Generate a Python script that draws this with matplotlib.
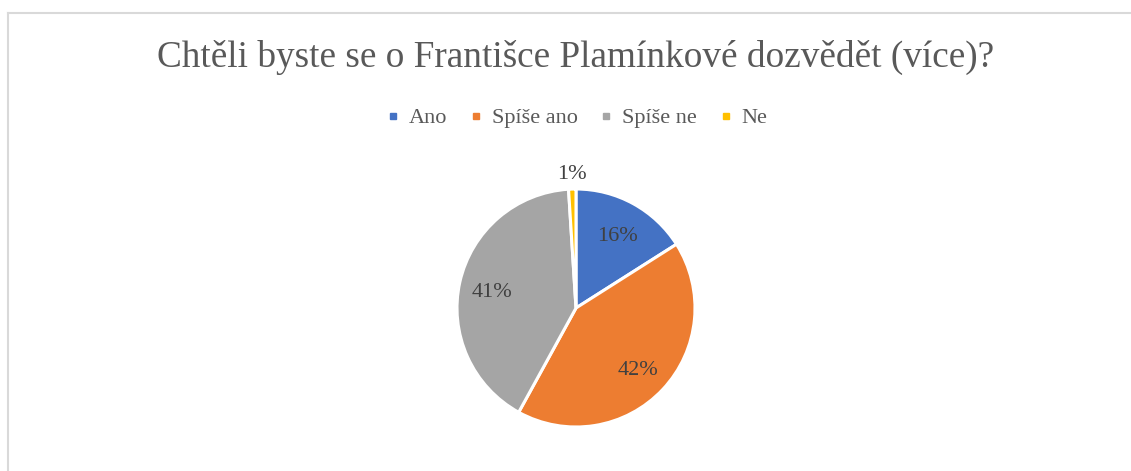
import numpy as np
import matplotlib
matplotlib.use('Agg')
import matplotlib.pyplot as plt
from matplotlib.lines import Line2D

# chart data
title = 'Chtěli byste se o Františce Plamínkové dozvědět (více)?'
labels = ['Ano', 'Spíše ano', 'Spíše ne', 'Ne']
values = [16, 42, 41, 1]
colors = ['#4472C4', '#ED7D31', '#A5A5A5', '#FFC000']

W, H = 1131, 471
plt.rcParams['font.family'] = ['Liberation Serif', 'DejaVu Serif']

fig = plt.figure(figsize=(W / 100, H / 100), dpi=100)

# chart frame (cropped: only top and left edges visible)
fig.add_artist(Line2D([8 / W, 1.0], [1 - 12.5 / H, 1 - 12.5 / H], color='#D9D9D9', lw=1.5))
fig.add_artist(Line2D([8 / W, 8 / W], [0.0, 1 - 12.5 / H], color='#D9D9D9', lw=1.5))

cx, cy, r = 576, 308, 119
ax = fig.add_axes([(cx - r) / W, (H - cy - r) / H, 2 * r / W, 2 * r / H])

wedges, texts, autotexts = ax.pie(values, colors=colors, startangle=90, counterclock=False,
                                  autopct='%1.0f%%', pctdistance=0.72,
                                  wedgeprops=dict(edgecolor='white', linewidth=2.2),
                                  textprops=dict(fontsize=16, color='#404040'))
# small slice: put its label outside the pie
for w, t in zip(wedges, autotexts):
    if w.theta2 - w.theta1 < 10:
        ang = np.deg2rad((w.theta1 + w.theta2) / 2)
        t.set_position((1.12 * np.cos(ang), 1.12 * np.sin(ang)))
    else:
        x, y = t.get_position()
        t.set_position((x, y - 0.03))
ax.set_xlim(-1, 1)
ax.set_ylim(-1, 1)
ax.set_aspect('equal')
ax.axis('off')

fig.text(576 / W, 1 - 67 / H, title, ha='center', va='baseline', fontsize=26.8, color='#595959')

handles = [Line2D([], [], marker='s', ls='', markersize=4.5, color=c) for c in colors]
leg = fig.legend(handles, labels, loc='center', bbox_to_anchor=(578 / W, 1 - 118 / H), ncol=4,
                 frameon=False, fontsize=16, handlelength=0.4, handletextpad=0.5,
                 columnspacing=1.1, labelcolor='#595959')

fig.savefig('out.png', dpi=100)
